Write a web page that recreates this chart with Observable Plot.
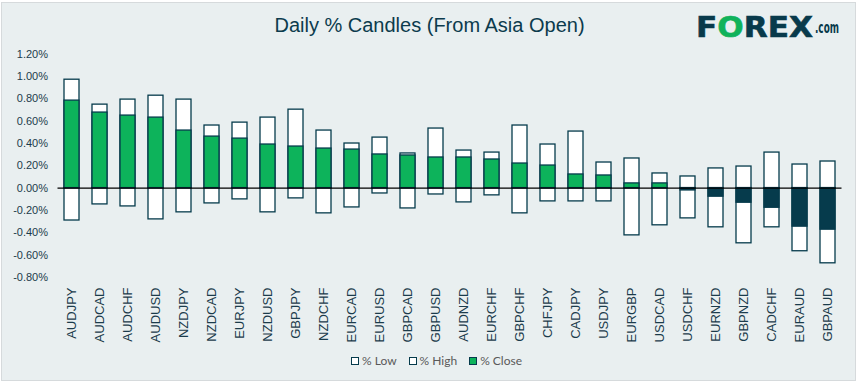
<!DOCTYPE html>
<html>
<head>
<meta charset="utf-8">
<script src="https://cdn.jsdelivr.net/npm/d3@7"></script>
<script src="https://cdn.jsdelivr.net/npm/@observablehq/plot@0.6"></script>
<style>
  html, body { margin: 0; padding: 0; background: #ffffff; }
  #wrap { position: relative; width: 861px; height: 385px; overflow: hidden; }
  #frame { position: absolute; left: 1px; top: 2px; width: 853px; height: 377px; border: 1px solid #d6dadc; background: #e9eff0; }
  #title { position: absolute; left: 0; width: 861px; top: 15px; text-align: center; font-family: "Liberation Sans", Arial, sans-serif; font-size: 20px; line-height: 20px; color: #0c3b4d; }
  #title span { position: relative; left: -1px; }
  #logo { position: absolute; left: 0; top: 0; }
  #chart { position: absolute; left: 0; top: 0; }
  #legend { position: absolute; left: 351px; top: 354px; display: flex; align-items: center; gap: 12px; font-family: Lato, "Open Sans", sans-serif; font-size: 12px; line-height: 14px; color: #595959; }
  .item { display: flex; align-items: center; }
  .sw { width: 6px; height: 6px; border: 1.2px solid #063b4c; margin-right: 3px; box-sizing: content-box; }
</style>
</head>
<body>
<div id="wrap">
  <div id="frame"></div>
  <div id="title"><span>Daily % Candles (From Asia Open)</span></div>
  <svg id="logo" width="861" height="50">
    <text x="696" y="36.5" font-family="DejaVu Sans" font-weight="bold" font-size="29" textLength="117" lengthAdjust="spacingAndGlyphs" fill="#083a4b" stroke="#083a4b" stroke-width="0.6"><tspan>F</tspan><tspan fill="#10b25b" stroke="#10b25b">O</tspan><tspan>REX</tspan></text>
    <text x="815" y="33" font-family="DejaVu Sans" font-weight="bold" font-size="16" textLength="24" lengthAdjust="spacingAndGlyphs" fill="#083a4b">.com</text>
  </svg>
  <div id="chart"></div>
  <div id="legend"></div>
</div>
<script>
// ---- data (values in %) ----
const pairs = ["AUDJPY","AUDCAD","AUDCHF","AUDUSD","NZDJPY","NZDCAD","EURJPY","NZDUSD","GBPJPY","NZDCHF",
  "EURCAD","EURUSD","GBPCAD","GBPUSD","AUDNZD","EURCHF","GBPCHF","CHFJPY","CADJPY","USDJPY",
  "EURGBP","USDCAD","USDCHF","EURNZD","GBPNZD","CADCHF","EURAUD","GBPAUD"];
const lowVals = [-0.29,-0.146,-0.164,-0.28,-0.217,-0.137,-0.101,-0.217,-0.092,-0.226,
  -0.173,-0.048,-0.182,-0.057,-0.128,-0.065,-0.226,-0.119,-0.119,-0.119,
  -0.423,-0.333,-0.271,-0.351,-0.494,-0.351,-0.565,-0.673];
const highVals = [0.97,0.747,0.792,0.827,0.792,0.56,0.586,0.631,0.702,0.515,
  0.399,0.452,0.31,0.533,0.336,0.318,0.56,0.39,0.506,0.229,
  0.265,0.131,0.104,0.176,0.193,0.318,0.211,0.238];
const closeVals = [0.783,0.676,0.649,0.631,0.515,0.461,0.443,0.39,0.372,0.354,
  0.345,0.301,0.292,0.274,0.274,0.256,0.22,0.202,0.122,0.113,
  0.042,0.042,-0.021,-0.077,-0.131,-0.176,-0.345,-0.372];
const yTicks = [-0.8,-0.6,-0.4,-0.2,0,0.2,0.4,0.6,0.8,1.0,1.2];
const seriesNames = ["% Low","% High","% Close"];

const teal = "#063b4c", green = "#0db35b";
const rows = pairs.map((p, i) => ({pair: p, low: lowVals[i], high: highVals[i], close: closeVals[i]}));
const barStyle = {x: "pair", y1: 0, stroke: teal, strokeWidth: 1.3, inset: 0};

const chart = Plot.plot({
  width: 861, height: 345,
  marginLeft: 57.5, marginRight: 19.5, marginTop: 53.5, marginBottom: 68,
  style: {background: "transparent", fontFamily: "'Liberation Sans', Arial, sans-serif", color: "#1b3b4b", overflow: "visible"},
  x: {domain: pairs, paddingInner: 0.46, paddingOuter: 0.23, label: null},
  y: {domain: [-0.8, 1.2], label: null},
  color: {type: "identity"},
  marks: [
    Plot.barY(rows, {...barStyle, y2: "low", fill: "white"}),
    Plot.barY(rows, {...barStyle, y2: "high", fill: "white"}),
    Plot.barY(rows, {...barStyle, y2: "close", fill: d => d.close >= 0 ? green : teal}),
    Plot.ruleY([0], {stroke: "#000", strokeWidth: 1.2}),
    Plot.axisY(yTicks, {tickSize: 0, tickPadding: 10, fontSize: 11, label: null, tickFormat: d => d.toFixed(2) + "%"}),
    Plot.axisX({tickRotate: -90, tickSize: 0, tickPadding: 10, fontSize: 13, label: null})
  ]
});
document.getElementById("chart").appendChild(chart);

const legend = document.getElementById("legend");
seriesNames.forEach((name, i) => {
  const item = document.createElement("div");
  item.className = "item";
  const sw = document.createElement("div");
  sw.className = "sw";
  sw.style.background = i === 2 ? green : "#ffffff";
  const t = document.createElement("span");
  t.textContent = name;
  item.appendChild(sw);
  item.appendChild(t);
  legend.appendChild(item);
});
</script>
</body>
</html>
